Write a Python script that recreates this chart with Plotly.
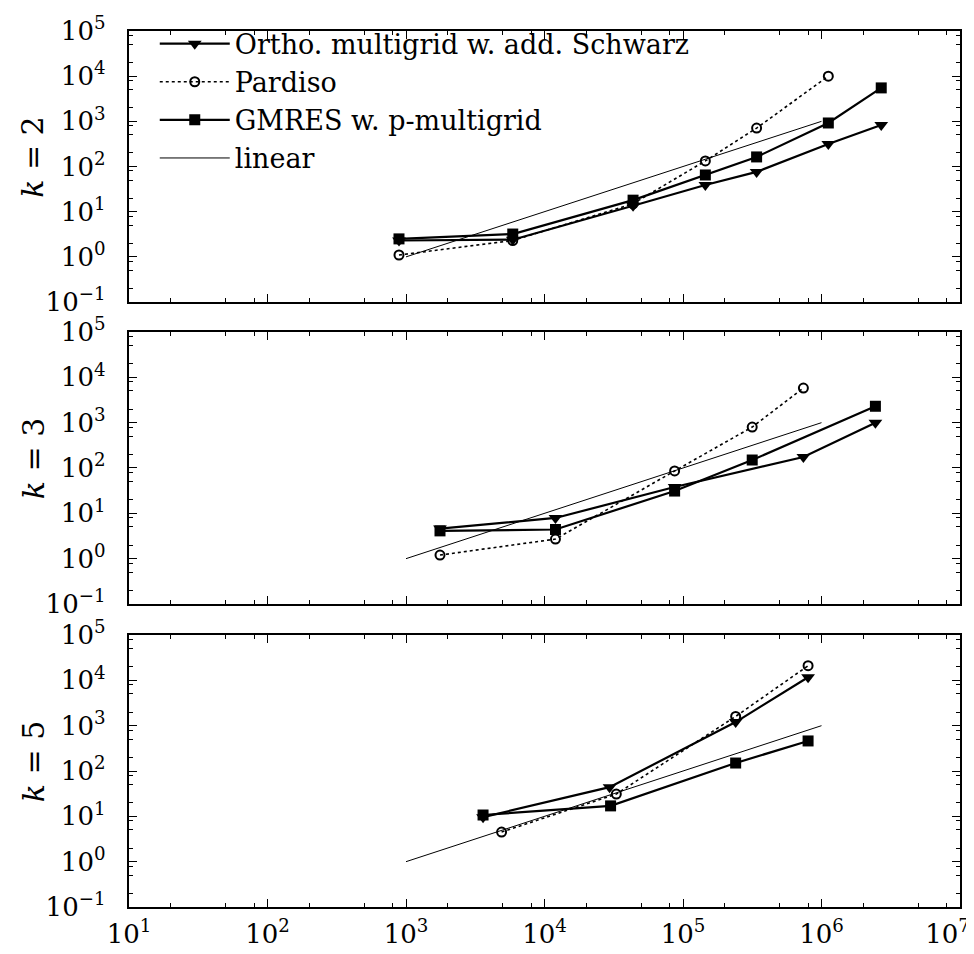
import plotly.graph_objects as go

# ---------------- data ----------------
# k = 2
k2_ortho_x = [890, 5900, 43600, 145000, 340000, 1.12e6, 2.7e6]
k2_ortho_y = [2.3, 2.4, 13.5, 39, 76, 316, 830]
k2_pard_x = [890, 5900, 43600, 145000, 340000, 1.12e6]
k2_pard_y = [1.1, 2.3, 15, 133, 710, 10000]
k2_gmres_x = [890, 5900, 43600, 145000, 340000, 1.12e6, 2.7e6]
k2_gmres_y = [2.5, 3.2, 18, 65, 163, 920, 5500]

# k = 3
k3_ortho_x = [1760, 12000, 87000, 740000, 2.45e6]
k3_ortho_y = [4.6, 7.9, 38, 175, 1000]
k3_pard_x = [1760, 12000, 87000, 316000, 740000]
k3_pard_y = [1.2, 2.7, 86, 800, 5800]
k3_gmres_x = [1760, 12000, 87000, 316000, 2.45e6]
k3_gmres_y = [4.1, 4.4, 31, 150, 2300]

# k = 5
k5_ortho_x = [3600, 29500, 240000, 800000]
k5_ortho_y = [9.6, 44, 1200, 11700]
k5_pard_x = [4900, 33000, 240000, 800000]
k5_pard_y = [4.5, 31, 1600, 21000]
k5_gmres_x = [3600, 30000, 240000, 800000]
k5_gmres_y = [10.7, 17, 150, 460]

# reference linear slope
lin_x = [1e3, 1e6]
lin_y = [1, 1e3]

series_names = ["Ortho. multigrid w. add. Schwarz", "Pardiso", "GMRES w. p-multigrid", "linear"]
panel_labels = ["<i>k</i> = 2", "<i>k</i> = 3", "<i>k</i> = 5"]

x_tickvals = [1e1, 1e2, 1e3, 1e4, 1e5, 1e6, 1e7]
x_ticktext = ["10<sup>1</sup>", "10<sup>2</sup>", "10<sup>3</sup>", "10<sup>4</sup>",
              "10<sup>5</sup>", "10<sup>6</sup>", "10<sup>7</sup>&nbsp;&nbsp;&nbsp;"]
y_tickvals = [1e-1, 1e0, 1e1, 1e2, 1e3, 1e4, 1e5]
y_ticktext = ["10<sup>−1</sup>", "10<sup>0</sup>", "10<sup>1</sup>", "10<sup>2</sup>",
              "10<sup>3</sup>", "10<sup>4</sup>", "10<sup>5</sup>"]

panels = [
    (k2_ortho_x, k2_ortho_y, k2_pard_x, k2_pard_y, k2_gmres_x, k2_gmres_y),
    (k3_ortho_x, k3_ortho_y, k3_pard_x, k3_pard_y, k3_gmres_x, k3_gmres_y),
    (k5_ortho_x, k5_ortho_y, k5_pard_x, k5_pard_y, k5_gmres_x, k5_gmres_y),
]

FONT = "DejaVu Serif"
YPAD = "&nbsp;&nbsp;"

fig = go.Figure()
for i, (ox, oy, px, py, gx, gy) in enumerate(panels):
    xa = "x" if i == 0 else f"x{i+1}"
    ya = "y" if i == 0 else f"y{i+1}"
    show = i == 0
    fig.add_trace(go.Scatter(x=ox, y=oy, name=series_names[0], mode="lines+markers",
                             line=dict(color="black", width=2.2),
                             marker=dict(symbol="triangle-down", size=12, color="black"),
                             xaxis=xa, yaxis=ya, showlegend=show, legendrank=1))
    fig.add_trace(go.Scatter(x=px, y=py, name=series_names[1], mode="lines+markers",
                             line=dict(color="black", width=1.6, dash="dot"),
                             marker=dict(symbol="circle-open", size=9, color="black",
                                         line=dict(width=2, color="black")),
                             xaxis=xa, yaxis=ya, showlegend=show, legendrank=2))
    fig.add_trace(go.Scatter(x=gx, y=gy, name=series_names[2], mode="lines+markers",
                             line=dict(color="black", width=2.2),
                             marker=dict(symbol="square", size=11, color="black"),
                             xaxis=xa, yaxis=ya, showlegend=show, legendrank=3))
    fig.add_trace(go.Scatter(x=lin_x, y=lin_y, name=series_names[3], mode="lines",
                             line=dict(color="black", width=1),
                             xaxis=xa, yaxis=ya, showlegend=show, legendrank=4))

minor_vals = []
for e in range(-2, 8):
    for m in (2, 5, 8):
        minor_vals.append(m * 10 ** e)

domains = [(0.6906, 1.0), (0.3459, 0.6564), (0.0, 0.3105)]
common = dict(type="log", showline=True, linecolor="black", linewidth=1.5, mirror="allticks",
              ticks="inside", ticklen=8, tickwidth=1, tickcolor="black", showgrid=False,
              zeroline=False, automargin=False,
              tickfont=dict(family=FONT, size=26, color="black"),
              minor=dict(tickvals=minor_vals, ticks="inside", ticklen=4, tickcolor="black",
                         showgrid=False))

for i, dom in enumerate(domains):
    xkey = "xaxis" if i == 0 else f"xaxis{i+1}"
    ykey = "yaxis" if i == 0 else f"yaxis{i+1}"
    xanchor = "y" if i == 0 else f"y{i+1}"
    yanchor = "x" if i == 0 else f"x{i+1}"
    fig.layout[xkey] = dict(common, range=[1, 7], anchor=xanchor, domain=[0, 1],
                            tickvals=x_tickvals, ticktext=x_ticktext,
                            showticklabels=(i == 2), ticklabelstandoff=3,
                            ticklabeloverflow="allow")
    fig.layout[ykey] = dict(common, range=[-1, 5], anchor=yanchor, domain=list(dom),
                            tickvals=y_tickvals, ticktext=[t + YPAD for t in y_ticktext])
    fig.add_annotation(text=panel_labels[i], xref="paper", yref="paper",
                       x=-0.1155, y=(dom[0] + dom[1]) / 2 + 0.01, textangle=-90,
                       xanchor="center", yanchor="middle",
                       showarrow=False, font=dict(family=FONT, size=30, color="black"))

fig.update_layout(
    template="none",
    width=974, height=954,
    margin=dict(l=121, r=22, t=23, b=55, autoexpand=False),
    paper_bgcolor="white", plot_bgcolor="white",
    font=dict(family=FONT, color="black"),
    legend=dict(x=0.031, y=1.013, xanchor="left", yanchor="top",
                bgcolor="rgba(0,0,0,0)", font=dict(family=FONT, size=27, color="black"),
                tracegroupgap=0, itemwidth=70),
    showlegend=True,
)

fig.write_html("out.html")
